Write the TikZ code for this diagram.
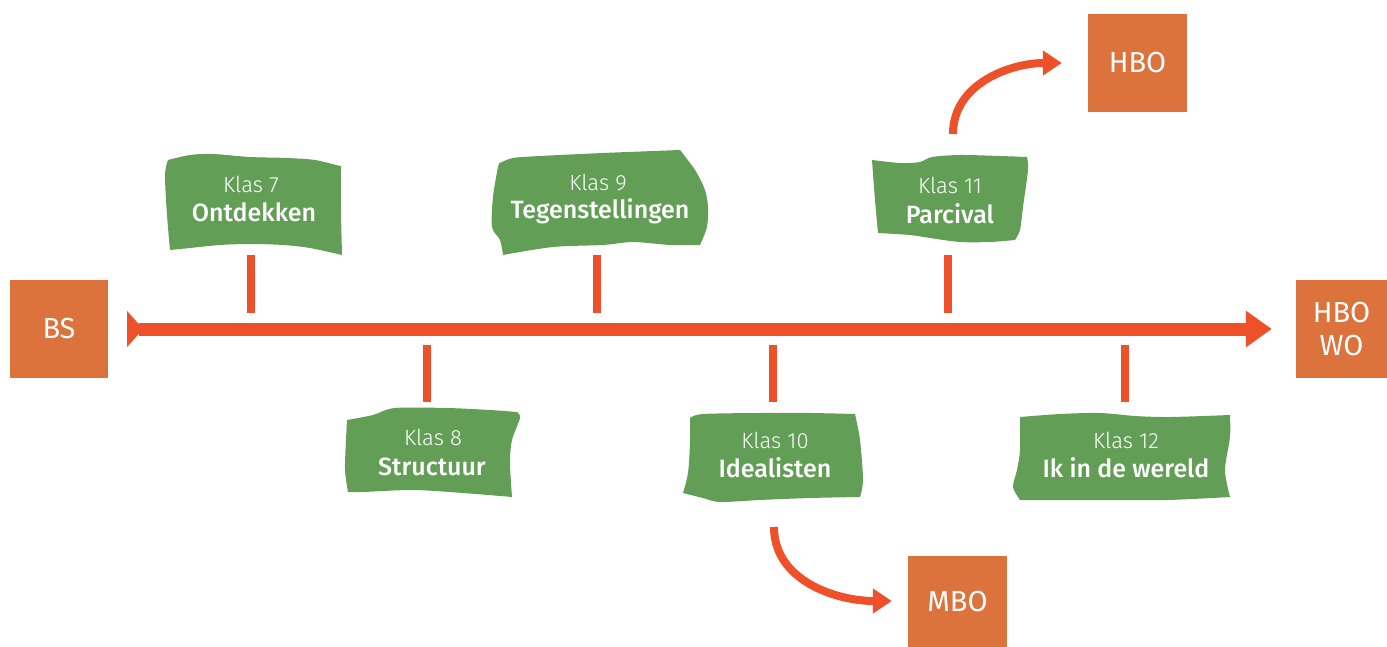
\documentclass[tikz,border=0pt]{standalone}
\usepackage{fontspec}
\setmainfont{Fira Sans}[UprightFont={* Light},BoldFont={* Medium}]
\newfontfamily\boxfont{Fira Sans}
\usetikzlibrary{arrows.meta}
\definecolor{boxor}{HTML}{DC723C}
\definecolor{linered}{HTML}{EE5129}
\definecolor{flaggreen}{HTML}{629E55}
\tikzset{
  endbox/.style={fill=boxor,text=white,inner sep=0pt,align=center,font=\boxfont\fontsize{29}{33}\selectfont},
  flagfill/.style={fill=flaggreen},
  klas/.style={text=white,anchor=base,inner sep=0pt,font=\fontsize{22}{26}\selectfont},
  theme/.style={text=white,anchor=base,inner sep=0pt,font=\fontsize{25}{29}\selectfont\bfseries},
  mainline/.style={draw=linered,line width=13pt,{Triangle[reversed,length=16pt,width=35pt]}-{Triangle[length=26pt,width=35pt]}},
  tickline/.style={draw=linered,line width=8pt},
  curvearrow/.style={draw=linered,line width=8pt,-{Triangle[length=19pt,width=24pt]}}
}
\begin{document}
\begin{tikzpicture}[x=1pt,y=-1pt]
\useasboundingbox (0,0) rectangle (1387,647);
% end boxes
\node[endbox,minimum width=98pt,minimum height=98pt] (bs) at (59,329) {BS};
\node[endbox,minimum width=91pt,minimum height=98pt] (hbowo) at (1341.5,329) {HBO\\WO};
\node[endbox,minimum width=99pt,minimum height=98pt] (hbo) at (1137.5,63) {HBO};
\node[endbox,minimum width=99pt,minimum height=91pt] (mbo) at (957.5,601.5) {MBO};
% main timeline
\draw[mainline] ([xshift=19pt]bs.east) -- ([xshift=-24pt]hbowo.west);
% flags
\fill[flagfill] plot[smooth,tension=.5] coordinates {(168,160) (190,155) (213,154) (250,157) (287,158) (315,160) (340,166)}
  -- plot[smooth,tension=.5] coordinates {(341,166) (341,210) (342,255)}
  -- plot[smooth,tension=.5] coordinates {(342,255) (310,248) (283,245) (250,244) (220,245) (190,248) (170,250)}
  -- plot[smooth,tension=.5] coordinates {(170,250) (167,215) (165,175) (168,160)} -- cycle;
\fill[flagfill] plot[smooth,tension=.5] coordinates {(500,163) (513,158) (540,156) (603,153) (680,150)}
  -- plot[smooth,tension=.5] coordinates {(680,150) (695,170) (705,190) (708,207) (707,227) (700,245)}
  -- plot[smooth,tension=.5] coordinates {(700,245) (670,245) (633,242) (603,245) (553,247) (503,255)}
  -- plot[smooth,tension=.5] coordinates {(503,255) (500,240) (492,227) (493,197) (498,167) (500,163)} -- cycle;
\fill[flagfill] plot[smooth,tension=.5] coordinates {(872,160) (900,163) (920,162) (932,157) (960,155) (1000,156) (1027,157)}
  -- plot[smooth,tension=.5] coordinates {(1027,157) (1028,170) (1023,207) (1020,230) (1015,240)}
  -- plot[smooth,tension=.5] coordinates {(1015,240) (990,242) (960,242) (930,238) (910,235) (878,233)}
  -- plot[smooth,tension=.5] coordinates {(878,233) (875,200) (872,160)} -- cycle;
\fill[flagfill] plot[smooth,tension=.5] coordinates {(347,420) (373,415) (395,408) (447,408) (490,410) (517,412)}
  -- plot[smooth,tension=.5] coordinates {(517,412) (520,418) (512,440) (510,463) (512,497)}
  -- plot[smooth,tension=.5] coordinates {(512,497) (463,493) (413,490) (363,492) (348,492)}
  -- plot[smooth,tension=.5] coordinates {(348,492) (345,470) (346,440) (347,420)} -- cycle;
\fill[flagfill] plot[smooth,tension=.5] coordinates {(690,418) (703,414) (760,413) (810,413) (855,414)}
  -- plot[smooth,tension=.5] coordinates {(855,414) (860,440) (863,480) (860,497)}
  -- plot[smooth,tension=.5] coordinates {(860,497) (810,498) (760,500) (720,502) (703,498) (683,493)}
  -- plot[smooth,tension=.5] coordinates {(683,493) (688,473) (690,443) (690,418)} -- cycle;
\fill[flagfill] plot[smooth,tension=.5] coordinates {(1020,417) (1060,414) (1100,413) (1135,416) (1170,417) (1230,415)}
  -- plot[smooth,tension=.5] coordinates {(1230,415) (1230,437) (1225,470) (1230,497)}
  -- plot[smooth,tension=.5] coordinates {(1230,497) (1167,500) (1100,500) (1020,500)}
  -- plot[smooth,tension=.5] coordinates {(1020,500) (1013,487) (1017,470) (1020,450) (1020,417)} -- cycle;
% flag texts
\node[klas] (k7) at (251,193) {Klas 7};
\node[theme] (t7) at (254,222) {Ontdekken};
\node[klas] (k9) at (598,191) {Klas 9};
\node[theme] (t9) at (600,219) {Tegenstellingen};
\node[klas] (k11) at (950,194) {Klas 11};
\node[theme] (t11) at (950,224) {Parcival};
\node[klas] (k8) at (433,445) {Klas 8};
\node[theme] (t8) at (432,475) {Structuur};
\node[klas] (k10) at (775,448) {Klas 10};
\node[theme] (t10) at (775,477) {Idealisten};
\node[klas] (k12) at (1126,448) {Klas 12};
\node[theme] (t12) at (1126,477) {Ik in de wereld};
% ticks
\coordinate (a7) at (251,255); \coordinate (b7) at (251,313);
\coordinate (a9) at (597,255); \coordinate (b9) at (597,313);
\coordinate (a11) at (948,255); \coordinate (b11) at (948,313);
\coordinate (a8) at (427,345); \coordinate (b8) at (427,402);
\coordinate (a10) at (773,345); \coordinate (b10) at (773,402);
\coordinate (a12) at (1125,345); \coordinate (b12) at (1125,402);
\foreach \k in {7,8,9,10,11,12} {\draw[tickline] (a\k) -- (b\k);}
% curved arrows
\coordinate (c11) at (953,134);
\coordinate (c10) at (774,527);
\draw[curvearrow] (c11) to[out=90,in=180] ([xshift=-26pt]hbo.west);
\draw[curvearrow] (c10) to[out=-90,in=180] ([xshift=-16pt,yshift=0.5pt]mbo.west);
\end{tikzpicture}
\end{document}
